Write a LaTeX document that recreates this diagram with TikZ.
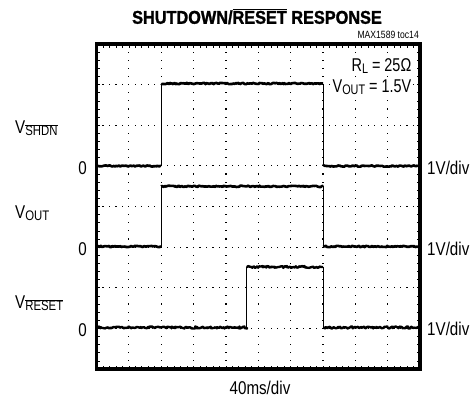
\documentclass[tikz,border=0pt]{standalone}
\usepackage{fontspec}
\usepackage{graphicx}
\setmainfont{Liberation Sans}
\newfontfamily\labfont[FakeStretch=0.82]{Liberation Sans}
\newfontfamily\narfont[FakeStretch=0.78]{Liberation Sans}
\newfontfamily\titfont[FakeStretch=0.88,FakeBold=1.4]{Liberation Sans}
\usetikzlibrary{decorations.pathmorphing}
\newcommand\ovl[1]{\ensuremath{\overline{\mbox{#1}}}}
\newcommand\lsub[1]{\raisebox{-0.3ex}{\scalebox{0.75}{#1}}}
\begin{document}
\begin{tikzpicture}[x=1pt,y=-1pt,
  lab/.style={font=\labfont\fontsize{18.5}{18.5}\selectfont, inner sep=0pt},
  smlab/.style={font=\narfont\fontsize{18.5}{18.5}\selectfont, inner sep=0.5pt, fill=white},
  trace/.style={line width=2.6pt, line join=round, line cap=butt, decorate, decoration={random steps, segment length=1.2pt, amplitude=0.7pt}},
  noisy/.style={line width=2.4pt, line join=round, line cap=butt, decorate, decoration={random steps, segment length=1.1pt, amplitude=1.0pt}},
  edge/.style={line width=0.9pt},
  tick/.style={line width=0.7pt},
  dot/.style={fill=black}]
\pgfmathsetseed{11}
\path[use as bounding box] (0,0) rectangle (474,405);
\def\L{96.5}\def\R{420}\def\T{44}\def\B{369}
\def\cw{32.35}\def\rh{40.625}
% dotted grid
\foreach \i in {1,...,9}{
  \foreach \k in {1,...,39}{
    \fill[dot] ({\L+\i*\cw-0.6},{\T+\k*\rh/5-0.6}) rectangle ++(1.2,1.2);
  }
}
\foreach \j in {1,...,7}{
  \foreach \k in {1,...,49}{
    \fill[dot] ({\L+\k*\cw/5-0.6},{\T+\j*\rh-0.6}) rectangle ++(1.2,1.2);
  }
}
% edge ticks
\foreach \k in {1,...,49}{
  \draw[tick] ({\L+\k*\cw/5},\T) -- ++(0,3.5);
  \draw[tick] ({\L+\k*\cw/5},\B) -- ++(0,-3.5);
}
\foreach \k in {1,...,39}{
  \draw[tick] (\L,{\T+\k*\rh/5}) -- ++(3.5,0);
  \draw[tick] (\R,{\T+\k*\rh/5}) -- ++(-3.5,0);
}
% frame
\draw[line width=3.2pt] (\L,\T) rectangle (\R,\B);
% labels inside the grid
\node[smlab, anchor=base east] (rl) at (412,71) {R\lsub{L} = 25Ω};
\node[smlab, anchor=base east] (vo) at (412,92) {V\lsub{OUT} = 1.5V};
% traces
\coordinate (a1) at (161.2,166); \coordinate (a2) at (161.2,83.5);
\coordinate (a3) at (323,83.5); \coordinate (a4) at (323,166);
\draw[trace] (\L,166) -- (a1);
\draw[edge] (a1) -- (a2);
\draw[trace] (a2) -- (a3);
\draw[edge] (a3) -- (a4);
\draw[trace] (a4) -- (\R,166);
\coordinate (b1) at (161.2,246.5); \coordinate (b2) at (161.2,186.3);
\coordinate (b3) at (323,186.3); \coordinate (b4) at (323,246.5);
\draw[trace] (\L,246.5) -- (b1);
\draw[edge] (b1) -- (b2);
\draw[trace] (b2) -- (b3);
\draw[edge] (b3) -- (b4);
\draw[trace] (b4) -- (\R,246.5);
\coordinate (c1) at (246.7,327.5); \coordinate (c2) at (246.7,267);
\coordinate (c3) at (323,267); \coordinate (c4) at (323,327.5);
\draw[noisy] (\L,327.5) -- (c1);
\draw[edge] (c1) -- (c2);
\draw[noisy] (c2) -- (c3);
\draw[edge] (c3) -- (c4);
\draw[noisy] (c4) -- (\R,327.5);
% title
\node[font=\titfont\bfseries\fontsize{18.5}{18.5}\selectfont, inner sep=0pt] (title) at (257,16.5) {SHUTDOWN/\ovl{RESET} RESPONSE};
\node[font=\labfont\fontsize{10.5}{10.5}\selectfont, inner sep=0pt, anchor=east] (toc) at (419,35) {MAX1589 toc14};
% left labels
\node[lab, anchor=base west] (vs) at (15,133) {V\lsub{\ovl{SHDN}}};
\node[lab, anchor=east] (z1) at (87,168.5) {0};
\node[lab, anchor=base west] (vout) at (15,218) {V\lsub{OUT}};
\node[lab, anchor=east] (z2) at (87,249) {0};
\node[lab, anchor=base west] (vr) at (15,308) {V\lsub{\ovl{RESET}}};
\node[lab, anchor=east] (z3) at (87,330) {0};
% right labels
\node[lab, anchor=west] (d1) at (427,168) {1V/div};
\node[lab, anchor=west] (d2) at (427,248.5) {1V/div};
\node[lab, anchor=west] (d3) at (427,329) {1V/div};
\node[lab] (tb) at (260,388) {40ms/div};
\end{tikzpicture}
\end{document}
